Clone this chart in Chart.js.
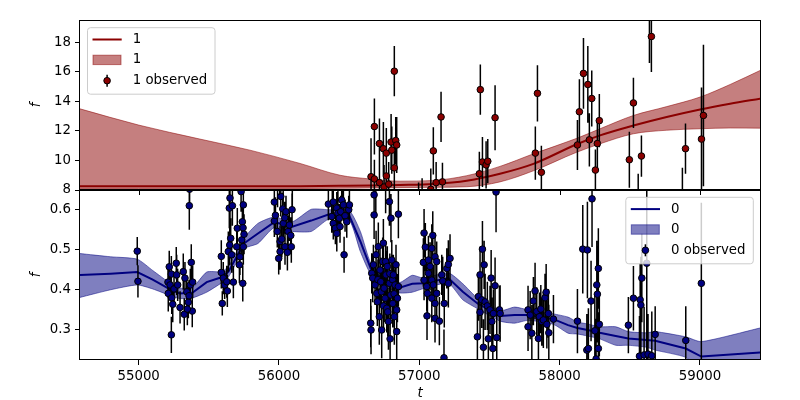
<!DOCTYPE html>
<html>
<head>
<meta charset="utf-8">
<script src="https://cdn.jsdelivr.net/npm/chart.js@4"></script>
<style>
  html, body { margin: 0; padding: 0; background: #fff; }
</style>
</head>
<body>
<canvas id="gpchart" width="800" height="400"></canvas>
<script>
// series names
const names = ['0', '1'];

// tick labels
const xTicks = [55000, 56000, 57000, 58000, 59000];
const yTicks1 = [8, 10, 12, 14, 16, 18];
const yTicks0 = [0.3, 0.4, 0.5, 0.6];

// series "1" (top panel): observed points
const t1 = [56656, 56680, 56680, 56716, 56716, 56744, 56749, 56765, 56765, 56782, 56799, 56804, 56822, 56822, 56832, 56839,
  56995, 57020, 57082, 57100, 57120, 57155, 57165,
  57428, 57435, 57450, 57476, 57488, 57540,
  57827, 57842, 57870,
  58127, 58141, 58170, 58201, 58212, 58229, 58255, 58269, 58283,
  58497, 58526, 58560, 58583, 58640, 58654,
  58875, 58897, 59011, 59025];
const f1 = [8.9, 12.3, 8.75, 11.15, 8.5, 10.8, 8.2, 10.5, 8.95, 8.4, 11.25, 10.7, 16.05, 9.5, 11.35, 11.05,
  7.3, 7.5, 8.05, 10.65, 8.5, 12.95, 8.55,
  9.1, 14.8, 9.9, 9.7, 9.95, 12.9,
  10.5, 14.55, 9.2,
  11.05, 13.3, 15.9, 15.15, 11.4, 14.2, 9.35, 11.15, 12.7,
  10.05, 13.9, 7.4, 10.3, 20.5, 18.4,
  7.6, 10.8, 11.45, 13.05];
const e1 = [2.6, 1.9, 1.3, 1.7, 1.4, 1.8, 1.5, 1.7, 1.6, 1.5, 1.9, 1.6, 1.7, 1.7, 1.6, 1.9,
  1.2, 1.3, 1.4, 1.6, 1.4, 1.7, 1.3,
  1.5, 1.7, 1.7, 1.6, 1.5, 2.2,
  1.8, 1.9, 1.8,
  1.7, 2.2, 2.4, 2.6, 1.8, 1.9, 1.4, 1.7, 1.8,
  1.9, 1.7, 1.7, 1.4, 3.9, 2.4,
  1.9, 1.7, 3.5, 4.8];

// series "1": model mean and band
const tm1 = [54582, 55000, 55437, 55793, 56150, 56435, 56650, 56863, 57100, 57338, 57575, 57813, 58122, 58288, 58526, 58763, 59001, 59215, 59429];
const m1  = [8.25, 8.25, 8.25, 8.25, 8.26, 8.28, 8.3, 8.34, 8.41, 8.63, 9.1, 9.77, 11.1, 11.7, 12.37, 12.95, 13.46, 13.85, 14.19];
const lo1 = [8.1, 8.1, 8.1, 8.1, 8.1, 8.12, 8.14, 8.16, 8.18, 8.22, 8.55, 9.3, 10.56, 11.13, 11.81, 12.05, 12.15, 12.2, 12.19];
const hi1 = [13.5, 12.4, 11.45, 10.7, 9.8, 9.0, 8.75, 8.6, 8.65, 8.97, 9.6, 10.45, 11.5, 12.15, 13.05, 13.65, 14.3, 15.15, 16.1];

// series "0" (bottom panel): observed points
const t0 = [54990, 54995,
  55218, 55233, 55268, 55209, 55224, 55252, 55211, 55236, 55243, 55233, 55271, 55278, 55295, 55318, 55330, 55325, 55343, 55354, 55361, 55363, 55375, 55368, 55385, 55382, 55347, 55359,
  55589, 55596, 55589, 55603, 55613, 55632, 55628, 55639, 55649, 55656, 55646, 55668, 55651, 55663, 55675, 55699, 55703, 55718, 55722, 55735, 55739, 55744, 55746, 55730, 55742, 55746, 55751,
  55967, 55967, 55975, 55988, 55990, 55998, 56008, 56008, 56013, 56020, 56027, 56030, 56031, 56041, 56043, 56050, 56060, 56065, 56074, 56084, 56088, 56093, 56095,
  56352, 56376, 56380, 56387, 56387, 56402, 56412, 56412, 56420, 56420, 56430, 56435, 56440, 56447, 56455, 56459, 56464, 56471, 56483, 56497, 56502,
  56654, 56656, 56661, 56668, 56673, 56678, 56678, 56685, 56690, 56692,
  56697, 56701, 56705, 56708, 56715, 56720, 56725, 56730, 56732, 56739,
  56744, 56745, 56749, 56756, 56760, 56760, 56763, 56768, 56772, 56775,
  56780, 56787, 56787, 56790, 56792, 56797, 56798, 56804, 56810, 56811,
  56815, 56820, 56822, 56827, 56834, 56839, 56839, 56844, 56851, 56851,
  57029, 57034, 57034, 57043, 57053, 57055, 57058, 57065, 57065, 57077, 57089, 57089, 57089, 57096, 57100, 57112, 57112, 57112, 57124, 57124, 57143, 57160, 57167, 57176, 57178, 57196, 57207, 57207, 57219,
  57414, 57421, 57433, 57433, 57445, 57450, 57457, 57462, 57469, 57485, 57492, 57504, 57512, 57517, 57524, 57528, 57540, 57547, 57552, 57571, 57576,
  57775, 57775, 57790, 57802, 57813, 57825, 57837, 57849, 57856, 57866, 57873, 57884, 57896, 57904, 57909, 57920, 57923, 57956,
  58127, 58165, 58194, 58198, 58205, 58224, 58231, 58251, 58260, 58265, 58269, 58276, 58276, 58283,
  58490, 58526, 58569, 58574, 58579, 58586, 58602, 58621, 58630, 58657, 58681, 58899, 59010];
const f0 = [0.496, 0.421,
  0.457, 0.439, 0.466, 0.419, 0.412, 0.402, 0.391, 0.380, 0.364, 0.288, 0.437, 0.412, 0.356, 0.445, 0.429, 0.339, 0.395, 0.369, 0.609, 0.650, 0.468, 0.412, 0.419, 0.347, 0.352, 0.385,
  0.483, 0.366, 0.443, 0.429, 0.412, 0.397, 0.420, 0.495, 0.511, 0.528, 0.603, 0.609, 0.628, 0.487, 0.419, 0.507, 0.553, 0.462, 0.482, 0.524, 0.569, 0.554, 0.611, 0.644, 0.416, 0.507, 0.538,
  0.618, 0.571, 0.585, 0.545, 0.655, 0.478, 0.495, 0.520, 0.632, 0.526, 0.601, 0.660, 0.565, 0.579, 0.507, 0.594, 0.493, 0.545, 0.561, 0.535, 0.507, 0.599, 0.655,
  0.613, 0.582, 0.660, 0.618, 0.565, 0.553, 0.603, 0.540, 0.590, 0.655, 0.578, 0.557, 0.594, 0.623, 0.660, 0.611, 0.487, 0.584, 0.569, 0.599, 0.611,
  0.317, 0.300, 0.441, 0.429, 0.462, 0.636, 0.586, 0.412, 0.660, 0.487,
  0.391, 0.370, 0.425, 0.507, 0.333, 0.449, 0.420, 0.395, 0.300, 0.470,
  0.516, 0.360, 0.404, 0.379, 0.470, 0.660, 0.437, 0.354, 0.458, 0.345,
  0.321, 0.416, 0.619, 0.440, 0.278, 0.387, 0.578, 0.474, 0.425, 0.366,
  0.437, 0.390, 0.333, 0.412, 0.462, 0.350, 0.296, 0.379, 0.408, 0.588,
  0.468, 0.541, 0.424, 0.506, 0.408, 0.335, 0.391, 0.474, 0.441, 0.458, 0.503, 0.424, 0.379, 0.535, 0.412, 0.482, 0.366, 0.329, 0.470, 0.391, 0.322, 0.437, 0.422, 0.231, 0.366, 0.453, 0.463, 0.416, 0.478,
  0.283, 0.383, 0.437, 0.344, 0.375, 0.501, 0.257, 0.462, 0.370, 0.360, 0.278, 0.350, 0.429, 0.321, 0.254, 0.341, 0.410, 0.643, 0.281, 0.350, 0.341,
  0.350, 0.308, 0.337, 0.292, 0.372, 0.397, 0.346, 0.279, 0.333, 0.352, 0.321, 0.325, 0.380, 0.394, 0.314, 0.341, 0.293, 0.327,
  0.322, 0.501, 0.250, 0.499, 0.254, 0.372, 0.626, 0.298, 0.228, 0.412, 0.389, 0.453, 0.254, 0.314,
  0.312, 0.379, 0.235, 0.375, 0.362, 0.429, 0.238, 0.466, 0.240, 0.236, 0.289, 0.274, 0.416];
const e0 = [0.035, 0.04,
  0.04, 0.045, 0.04, 0.04, 0.035, 0.04, 0.045, 0.04, 0.045, 0.045, 0.05, 0.04, 0.04, 0.045, 0.04, 0.04, 0.035, 0.04, 0.06, 0.05, 0.045, 0.04, 0.04, 0.04, 0.04, 0.04,
  0.04, 0.03, 0.04, 0.04, 0.035, 0.04, 0.04, 0.05, 0.05, 0.05, 0.05, 0.05, 0.05, 0.045, 0.04, 0.05, 0.05, 0.045, 0.045, 0.05, 0.05, 0.045, 0.05, 0.05, 0.045, 0.045, 0.05,
  0.04, 0.04, 0.045, 0.04, 0.05, 0.04, 0.045, 0.04, 0.05, 0.045, 0.04, 0.05, 0.04, 0.04, 0.045, 0.04, 0.045, 0.04, 0.04, 0.045, 0.04, 0.04, 0.05,
  0.04, 0.04, 0.05, 0.035, 0.04, 0.04, 0.04, 0.045, 0.04, 0.05, 0.035, 0.04, 0.04, 0.04, 0.05, 0.04, 0.045, 0.04, 0.04, 0.035, 0.04,
  0.06, 0.06, 0.05, 0.06, 0.05, 0.06, 0.06, 0.05, 0.07, 0.06,
  0.06, 0.06, 0.05, 0.06, 0.07, 0.05, 0.06, 0.06, 0.07, 0.06,
  0.06, 0.06, 0.05, 0.06, 0.05, 0.07, 0.06, 0.06, 0.05, 0.06,
  0.07, 0.06, 0.06, 0.05, 0.07, 0.06, 0.06, 0.05, 0.06, 0.06,
  0.05, 0.06, 0.07, 0.06, 0.05, 0.06, 0.07, 0.06, 0.05, 0.06,
  0.06, 0.06, 0.05, 0.06, 0.06, 0.06, 0.05, 0.06, 0.05, 0.06, 0.06, 0.05, 0.06, 0.06, 0.05, 0.06, 0.06, 0.06, 0.05, 0.06, 0.06, 0.05, 0.06, 0.07, 0.06, 0.05, 0.06, 0.06, 0.06,
  0.07, 0.06, 0.07, 0.06, 0.07, 0.07, 0.07, 0.06, 0.07, 0.06, 0.07, 0.06, 0.07, 0.06, 0.07, 0.06, 0.07, 0.1, 0.07, 0.06, 0.07,
  0.06, 0.06, 0.06, 0.07, 0.06, 0.07, 0.06, 0.07, 0.06, 0.06, 0.06, 0.07, 0.06, 0.07, 0.06, 0.06, 0.07, 0.06,
  0.08, 0.11, 0.09, 0.12, 0.10, 0.10, 0.12, 0.09, 0.10, 0.11, 0.12, 0.10, 0.09, 0.08,
  0.07, 0.08, 0.10, 0.09, 0.12, 0.11, 0.12, 0.25, 0.10, 0.11, 0.07, 0.085, 0.2];

// series "0": model mean and band
const tm0 = [54582, 54800, 54990, 55100, 55230, 55295, 55385, 55485, 55590, 55640, 55680, 55750, 55850, 55967, 56095, 56230, 56352, 56500, 56580, 56655,
  56760, 56860, 56950, 57030, 57207, 57310, 57415, 57576, 57680, 57775, 57956, 58060, 58127, 58200, 58285, 58400, 58490, 58620, 58681, 58899, 59010, 59429];
const m0 = [0.437, 0.440, 0.444, 0.425, 0.400, 0.391, 0.393, 0.419, 0.431, 0.445, 0.470, 0.515, 0.540, 0.568, 0.557, 0.572, 0.587, 0.585, 0.520, 0.452,
  0.420, 0.405, 0.415, 0.416, 0.429, 0.395, 0.366, 0.335, 0.337, 0.337, 0.327, 0.312, 0.305, 0.300, 0.293, 0.285, 0.279, 0.275, 0.273, 0.254, 0.234, 0.244];
const lo0 = [0.381, 0.400, 0.412, 0.402, 0.385, 0.378, 0.380, 0.394, 0.417, 0.432, 0.457, 0.502, 0.515, 0.555, 0.545, 0.545, 0.575, 0.573, 0.495, 0.438,
  0.407, 0.392, 0.394, 0.403, 0.416, 0.375, 0.353, 0.322, 0.317, 0.324, 0.314, 0.292, 0.290, 0.285, 0.278, 0.262, 0.262, 0.257, 0.250, 0.232, 0.200, 0.180];
const hi0 = [0.490, 0.482, 0.476, 0.448, 0.415, 0.404, 0.406, 0.444, 0.445, 0.458, 0.483, 0.528, 0.565, 0.581, 0.569, 0.600, 0.599, 0.597, 0.545, 0.466,
  0.433, 0.418, 0.436, 0.429, 0.442, 0.415, 0.379, 0.348, 0.357, 0.350, 0.340, 0.332, 0.320, 0.315, 0.308, 0.308, 0.296, 0.293, 0.296, 0.283, 0.271, 0.305];

const RED = '#8b0000';
const RED_BAND = 'rgba(139,0,0,0.5)';
const NAVY = '#000080';
const NAVY_BAND = 'rgba(0,0,128,0.5)';
const FONT = "'DejaVu Sans', sans-serif";

Chart.defaults.font.family = FONT;
Chart.defaults.font.size = 13.33;
Chart.defaults.color = '#000';

const toPts = (xs, ys) => xs.map((x, i) => ({x: x, y: ys[i]}));

// clip every dataset to its own panel, and draw error bars under the markers
const panelClip = {
  id: 'panelClip',
  beforeDatasetDraw(chart, args) {
    const ds = chart.data.datasets[args.index];
    const ys = chart.scales[ds.yAxisID];
    const xs = chart.scales.x;
    const ctx = chart.ctx;
    ctx.save();
    ctx.beginPath();
    ctx.rect(xs.left, ys.top, xs.right - xs.left, ys.bottom - ys.top);
    ctx.clip();
    if (ds.errors) {
      ctx.strokeStyle = '#000';
      ctx.lineWidth = 1.5;
      ctx.beginPath();
      ds.data.forEach((p, i) => {
        const px = xs.getPixelForValue(p.x);
        ctx.moveTo(px, ys.getPixelForValue(p.y - ds.errors[i]));
        ctx.lineTo(px, ys.getPixelForValue(p.y + ds.errors[i]));
      });
      ctx.stroke();
    }
  },
  afterDatasetDraw(chart) {
    chart.ctx.restore();
  }
};

const frame = {
  id: 'frame',
  afterDatasetsDraw(chart) {
    const ctx = chart.ctx;
    const xs = chart.scales.x;
    ctx.save();
    ctx.strokeStyle = '#000';
    ctx.lineWidth = 1;
    ['y1', 'y0'].forEach(id => {
      const ys = chart.scales[id];
      ctx.strokeRect(Math.round(xs.left) - 0.5, Math.round(ys.top) + 0.5,
        Math.round(xs.right - xs.left) + 1, Math.round(ys.bottom - ys.top) - 1);
    });
    // x tick marks under the top panel
    const yb = Math.round(chart.scales.y1.bottom);
    ctx.beginPath();
    xTicks.forEach(v => {
      const px = Math.round(xs.getPixelForValue(v)) + 0.5;
      ctx.moveTo(px, yb);
      ctx.lineTo(px, yb + 5);
    });
    ctx.stroke();
    ctx.restore();
  }
};

function drawLegend(ctx, x, y, color, band, name) {
  const w = 127.5, h = 66.5;
  ctx.save();
  ctx.beginPath();
  if (ctx.roundRect) ctx.roundRect(x, y, w, h, 3); else ctx.rect(x, y, w, h);
  ctx.fillStyle = 'rgba(255,255,255,0.8)';
  ctx.fill();
  ctx.strokeStyle = '#cccccc';
  ctx.lineWidth = 1;
  ctx.stroke();

  const r1 = y + 11.8, r2 = y + 32.2, r3 = y + 53;
  const hx0 = x + 5, hx1 = x + 34.2, hc = x + 19.6;
  ctx.strokeStyle = color;
  ctx.lineWidth = 2;
  ctx.beginPath();
  ctx.moveTo(hx0, r1);
  ctx.lineTo(hx1, r1);
  ctx.stroke();

  ctx.fillStyle = band;
  ctx.strokeStyle = band;
  ctx.lineWidth = 1;
  ctx.fillRect(hx0 + 0.5, r2 - 4.7, 28, 9.4);
  ctx.strokeRect(hx0 + 0.5, r2 - 4.7, 28, 9.4);

  ctx.strokeStyle = '#000';
  ctx.lineWidth = 1.5;
  ctx.beginPath();
  ctx.moveTo(hc, r3 - 6);
  ctx.lineTo(hc, r3 + 6);
  ctx.stroke();
  ctx.beginPath();
  ctx.arc(hc, r3, 3.3, 0, Math.PI * 2);
  ctx.fillStyle = color;
  ctx.fill();
  ctx.lineWidth = 1;
  ctx.stroke();

  ctx.fillStyle = '#000';
  ctx.font = '13.33px ' + FONT;
  ctx.textBaseline = 'middle';
  ctx.textAlign = 'left';
  ctx.fillText(name, x + 45.2, r1);
  ctx.fillText(name, x + 45.2, r2);
  ctx.fillText(name + ' observed', x + 45.2, r3);
  ctx.restore();
}

const legends = {
  id: 'legends',
  afterDraw(chart) {
    const ctx = chart.ctx;
    const xs = chart.scales.x;
    const top = chart.scales.y1, bot = chart.scales.y0;
    drawLegend(ctx, xs.left + 7.5, top.top + 7.7, RED, RED_BAND, names[1]);
    drawLegend(ctx, xs.right - 6.7 - 127.5, bot.top + 7.3, NAVY, NAVY_BAND, names[0]);
  }
};

const yAxis = (min, max, ticks, weight) => ({
  type: 'linear',
  position: 'left',
  stack: 'panels',
  stackWeight: 1,
  weight: weight,
  min: min,
  max: max,
  afterFit: s => { s.width = 80; },
  afterBuildTicks: s => { s.ticks = ticks.map(v => ({value: v})); },
  ticks: { callback: v => String(v), padding: 4 },
  grid: { drawOnChartArea: false, tickLength: 5, tickColor: '#000' },
  border: { display: false },
  title: {
    display: true, text: 'f',
    font: { style: 'italic', size: 13.33, lineHeight: 1 },
    padding: { top: 30, bottom: 0 }
  }
});

const bandStyle = (c) => ({
  borderColor: c, backgroundColor: c, borderWidth: 1, pointRadius: 0
});

new Chart(document.getElementById('gpchart'), {
  type: 'line',
  data: {
    datasets: [
      { type: 'scatter', label: names[1] + ' observed', data: toPts(t1, f1), errors: e1, yAxisID: 'y1', order: 0,
        pointRadius: 3.3, pointBackgroundColor: RED, pointBorderColor: '#000', pointBorderWidth: 1 },
      { type: 'scatter', label: names[0] + ' observed', data: toPts(t0, f0), errors: e0, yAxisID: 'y0', order: 0,
        pointRadius: 3.3, pointBackgroundColor: NAVY, pointBorderColor: '#000', pointBorderWidth: 1 },
      { label: names[1], data: toPts(tm1, m1), yAxisID: 'y1', order: 1, borderColor: RED, borderWidth: 2,
        pointRadius: 0, fill: false, cubicInterpolationMode: 'monotone' },
      { label: names[0], data: toPts(tm0, m0), yAxisID: 'y0', order: 1, borderColor: NAVY, borderWidth: 2,
        pointRadius: 0, fill: false, tension: 0 },
      { label: names[1] + ' lo', data: toPts(tm1, lo1), yAxisID: 'y1', order: 2, fill: false,
        cubicInterpolationMode: 'monotone', ...bandStyle(RED_BAND) },
      { label: names[1] + ' hi', data: toPts(tm1, hi1), yAxisID: 'y1', order: 2, fill: '-1',
        cubicInterpolationMode: 'monotone', ...bandStyle(RED_BAND) },
      { label: names[0] + ' lo', data: toPts(tm0, lo0), yAxisID: 'y0', order: 2, fill: false,
        tension: 0.2, ...bandStyle(NAVY_BAND) },
      { label: names[0] + ' hi', data: toPts(tm0, hi0), yAxisID: 'y0', order: 2, fill: '-1',
        tension: 0.2, ...bandStyle(NAVY_BAND) }
    ]
  },
  options: {
    responsive: false,
    animation: false,
    events: [],
    devicePixelRatio: 1,
    layout: { padding: { top: 20, right: 40, bottom: 0, left: 0 } },
    plugins: { legend: { display: false }, tooltip: { enabled: false } },
    scales: {
      x: {
        type: 'linear',
        min: 54582,
        max: 59428,
        afterFit: s => { s.height = 40; },
        afterBuildTicks: s => { s.ticks = xTicks.map(v => ({value: v})); },
        ticks: { callback: v => String(v), padding: 4, maxRotation: 0, autoSkip: false },
        grid: { drawOnChartArea: false, tickLength: 5, tickColor: '#000' },
        border: { display: false },
        title: {
          display: true, text: 't',
          font: { style: 'italic', size: 13.33, lineHeight: 1 },
          padding: { top: 0, bottom: 0 }
        }
      },
      y1: yAxis(8, 19.52, yTicks1, 2),
      y0: yAxis(0.2254, 0.648, yTicks0, 1)
    }
  },
  plugins: [panelClip, frame, legends]
});
</script>
</body>
</html>
